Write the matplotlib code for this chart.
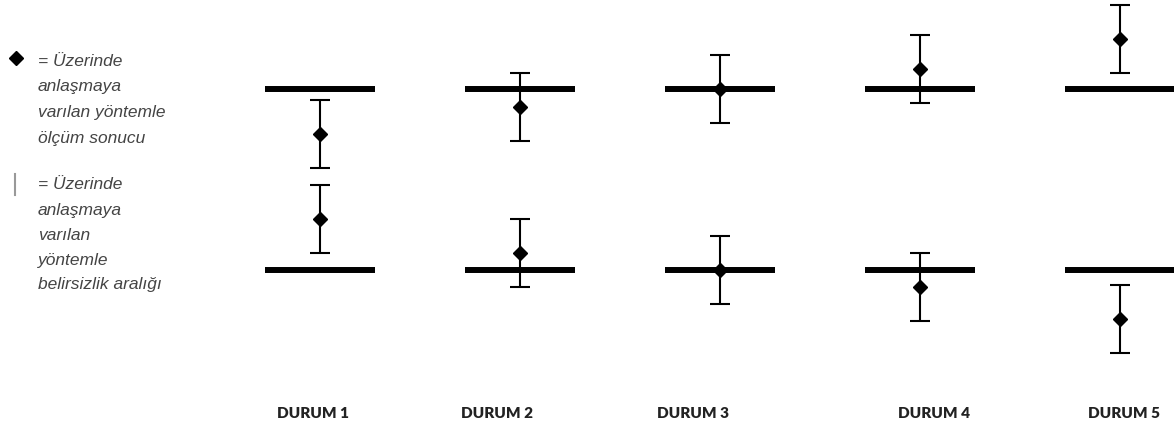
import matplotlib.pyplot as plt
from matplotlib.lines import Line2D

# --- data (arbitrary units, lower limit = 0) ---
cases = ["DURUM 1", "DURUM 2", "DURUM 3", "DURUM 4", "DURUM 5"]
upper_limit = 181
lower_limit = 0
upper_results = [136, 163, 181, 201, 231]
lower_results = [51, 17, 0, -17, -49]
uncertainty = [34, 34, 34, 34, 34]

legend_1 = ["= Üzerinde", "anlaşmaya", "varılan yöntemle", "ölçüm sonucu"]
legend_2 = ["= Üzerinde", "anlaşmaya", "varılan", "yöntemle", "belirsizlik aralığı"]

W, H = 1174, 428
fig = plt.figure(figsize=(W / 100, H / 100), dpi=100)
ax = fig.add_axes([0, 0, 1, 1])
ax.set_xlim(-0.6, 5.27)
ax.set_ylim(-158, 270)
ax.axis('off')

x = list(range(1, len(cases) + 1))
half = 0.275

# limit lines
for xi in x:
    ax.plot([xi - half, xi + half], [upper_limit, upper_limit], color='black',
            linewidth=4.3, solid_capstyle='butt', zorder=1)
    ax.plot([xi - half, xi + half], [lower_limit, lower_limit], color='black',
            linewidth=4.3, solid_capstyle='butt', zorder=1)

# measurement results with uncertainty
for vals in (upper_results, lower_results):
    ax.errorbar(x, vals, yerr=uncertainty, fmt='D', color='black',
                markersize=7, elinewidth=1.5, capsize=7, capthick=1.5, zorder=3)

# case labels (placed a bit irregularly as in the original)
label_px = [313, 497, 693, 934, 1124]
for name, px in zip(cases, label_px):
    fig.text(px / W, 1 - 414 / H, name, ha='center', va='center',
             fontsize=11, fontweight='heavy', family='Lato', color='#222222')

# legend on the left
fig.add_artist(Line2D([16 / W], [1 - 58 / H], marker='D', color='black',
                      markersize=7.5, linestyle='none'))
fig.add_artist(Line2D([15 / W, 15 / W], [1 - 174 / H, 1 - 195 / H],
                      color='#999999', linewidth=1.5))

text_style = dict(fontsize=12.5, style='italic', family='Liberation Sans',
                  color='#444444', ha='left', va='center')
for i, line in enumerate(legend_1):
    fig.text(38 / W, 1 - (61 + 26 * i) / H, line, **text_style)
for i, line in enumerate(legend_2):
    fig.text(38 / W, 1 - (185 + 25 * i) / H, line, **text_style)

fig.savefig('out.png', dpi=100)
